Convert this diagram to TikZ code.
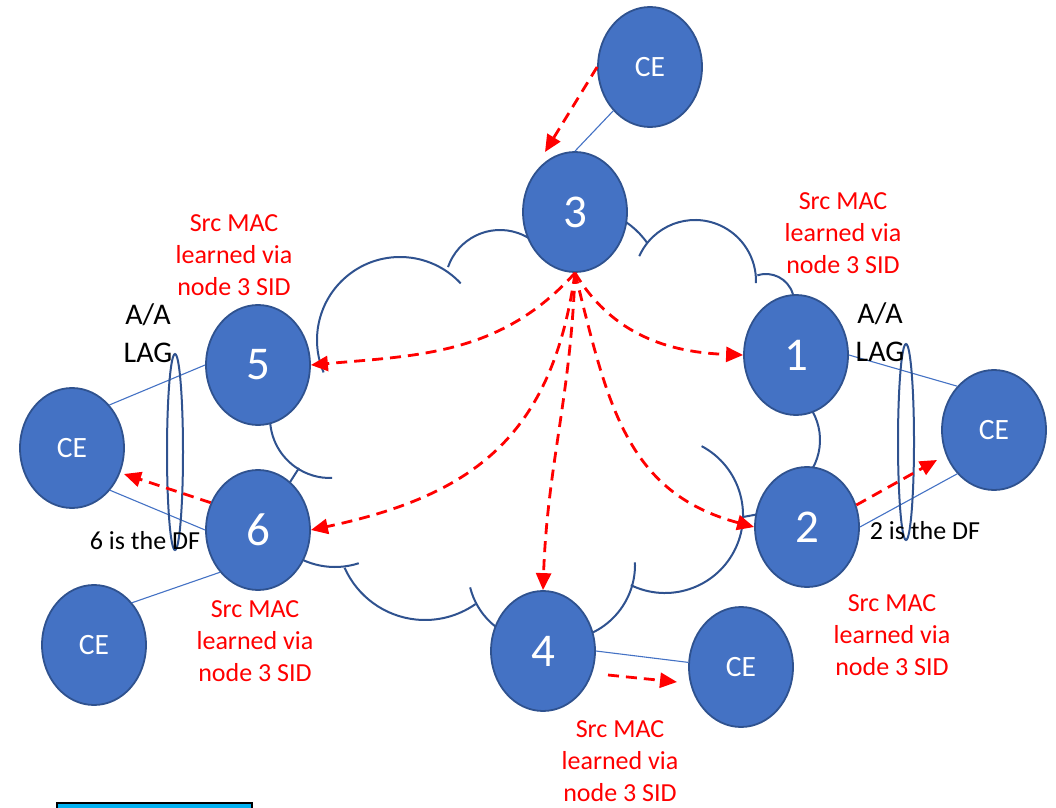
\documentclass[tikz,border=0pt]{standalone}
\usepackage{fontspec}
\setmainfont{Carlito}
\usetikzlibrary{shapes.geometric,arrows.meta}
\definecolor{nfill}{HTML}{4472C4}
\definecolor{nline}{HTML}{2F528F}
\definecolor{cyanbox}{HTML}{00B0F0}
\definecolor{redc}{HTML}{FF0000}
\begin{document}
\begin{tikzpicture}[x=1pt,y=1pt,
  pe/.style={ellipse, draw=nline, fill=nfill, line width=1.8pt, minimum width=104pt, minimum height=120pt, inner sep=0pt, text=white},
  num/.style={pe, font=\fontsize{47}{50}\selectfont},
  ce/.style={pe, font=\fontsize{29.5}{32}\selectfont},
  cloudline/.style={draw=nline, line width=2pt},
  thinline/.style={draw=nfill, line width=1.1pt},
  lag/.style={ellipse, draw=nline, line width=2pt, minimum width=16pt, minimum height=196pt, inner sep=0pt},
  redarrow/.style={draw=redc, line width=2.8pt, dash pattern=on 11pt off 7pt, -{Triangle[length=17pt,width=15pt]}},
  note/.style={text=redc, font=\fontsize{26}{32}\selectfont, align=center},
  blk/.style={font=\fontsize{30}{38}\selectfont, align=center},
  df/.style={font=\fontsize{26}{30}\selectfont}
]
\useasboundingbox (0,0) rectangle (1056,807);

% cloud outline
\draw[cloudline] (400,467) ++(43:83) arc[start angle=43, end angle=203, radius=83];
\draw[cloudline] (500,522) ++(161:55) arc[start angle=161, end angle=30, radius=55];
\draw[cloudline] (580,517) ++(35:82) arc[start angle=35, end angle=100, radius=82];
\draw[cloudline] (695,526) ++(156:61) arc[start angle=156, end angle=-2, radius=61];
\draw[cloudline] (766,505) ++(108:28) arc[start angle=108, end angle=-30, radius=28];
\draw[cloudline] (762,367) ++(40:58) arc[start angle=40, end angle=-45, radius=58];
\draw[cloudline] (665,292) ++(62:78) arc[start angle=62, end angle=-116, radius=78];
\draw[cloudline] (743,290) -- (770,295);
\draw[cloudline] (560,242) ++(2:75) arc[start angle=2, end angle=-80, radius=75];
\draw[cloudline] (540,237) ++(194:72) arc[start angle=194, end angle=260, radius=72];
\draw[cloudline] (425,275) ++(204:88) arc[start angle=204, end angle=305, radius=88];
\draw[cloudline] (335,317) ++(-130:77) arc[start angle=-130, end angle=-72, radius=77];
\draw[cloudline] (330,389) ++(175:60) arc[start angle=175, end angle=272, radius=60];
\draw[cloudline] (299,339) -- (285,317);

% nodes
\node[ce]  (ceT)  at (650,740) {CE};
\node[num] (n3)   at (575,595) {3};
\node[num] (n5)   at (258,442) {5};
\node[num] (n6)   at (258,277) {6};
\node[ce]  (ceL)  at (72,359)  {CE};
\node[num] (n1)   at (796,452) {1};
\node[num] (n2)   at (807,280) {2};
\node[ce]  (ceR)  at (994,377) {CE};
\node[num] (n4)   at (543,156) {4};
\node[ce]  (ceB)  at (741,140) {CE};
\node[ce]  (ceBL) at (94,162)  {CE};

% thin links
\draw[thinline] (ceT.230) -- (n3.north);
\draw[thinline] (ceL.49) -- (n5.west);
\draw[thinline] (ceL.-48) -- (n6.west);
\draw[thinline] (n6.228) -- (ceBL.48);
\draw[thinline] (n1.east) -- (ceR.130);
\draw[thinline] (n2.east) -- (ceR.230);
\draw[thinline] (n4.east) -- (ceB.175);

% LAG ellipses
\node[lag] (lagL) at (175,355) {};
\node[lag] (lagR) at (906,365) {};

% texts
\node[blk] (aaL) at (148,474) {A/A\\LAG};
\node[blk] (aaR) at (880,475) {A/A\\LAG};
\node[df] (dfL) at (145,266) {6 is the DF};
\node[df] (dfR) at (925,276) {2 is the DF};
\node[note] (s5) at (234,552) {Src MAC\\learned via\\node 3 SID};
\node[note] (s1) at (843,574) {Src MAC\\learned via\\node 3 SID};
\node[note] (s6) at (255,166) {Src MAC\\learned via\\node 3 SID};
\node[note] (s2) at (892,172) {Src MAC\\learned via\\node 3 SID};
\node[note] (s4) at (620,46)  {Src MAC\\learned via\\node 3 SID};

% red arrows
\coordinate (t1) at (545,655);
\coordinate (t6) at (124,333);
\coordinate (t2) at (937,347);
\coordinate (s4a) at (608,132);
\coordinate (t4) at (677,125);
\draw[redarrow] (ceT.west) -- (t1);
\draw[redarrow] (n3.south) to[out=228, in=5] (n5.east);
\draw[redarrow] (n3.south) to[out=-59, in=178] (n1.west);
\draw[redarrow] (n3.south) to[out=262, in=12, looseness=1.15] (n6.east);
\draw[redarrow] (n3.south) to[out=-76, in=165, looseness=1.1] (n2.west);
\draw[redarrow] (n3.south) to[out=268, in=88] (n4.north);
\draw[redarrow] (n6.150) -- (t6);
\draw[redarrow] (n2.24) -- (t2);
\draw[redarrow] (s4a) -- (t4);

% bottom box
\draw[black, line width=1.6pt, fill=cyanbox] (57,-6) rectangle (252,4);
\end{tikzpicture}
\end{document}
